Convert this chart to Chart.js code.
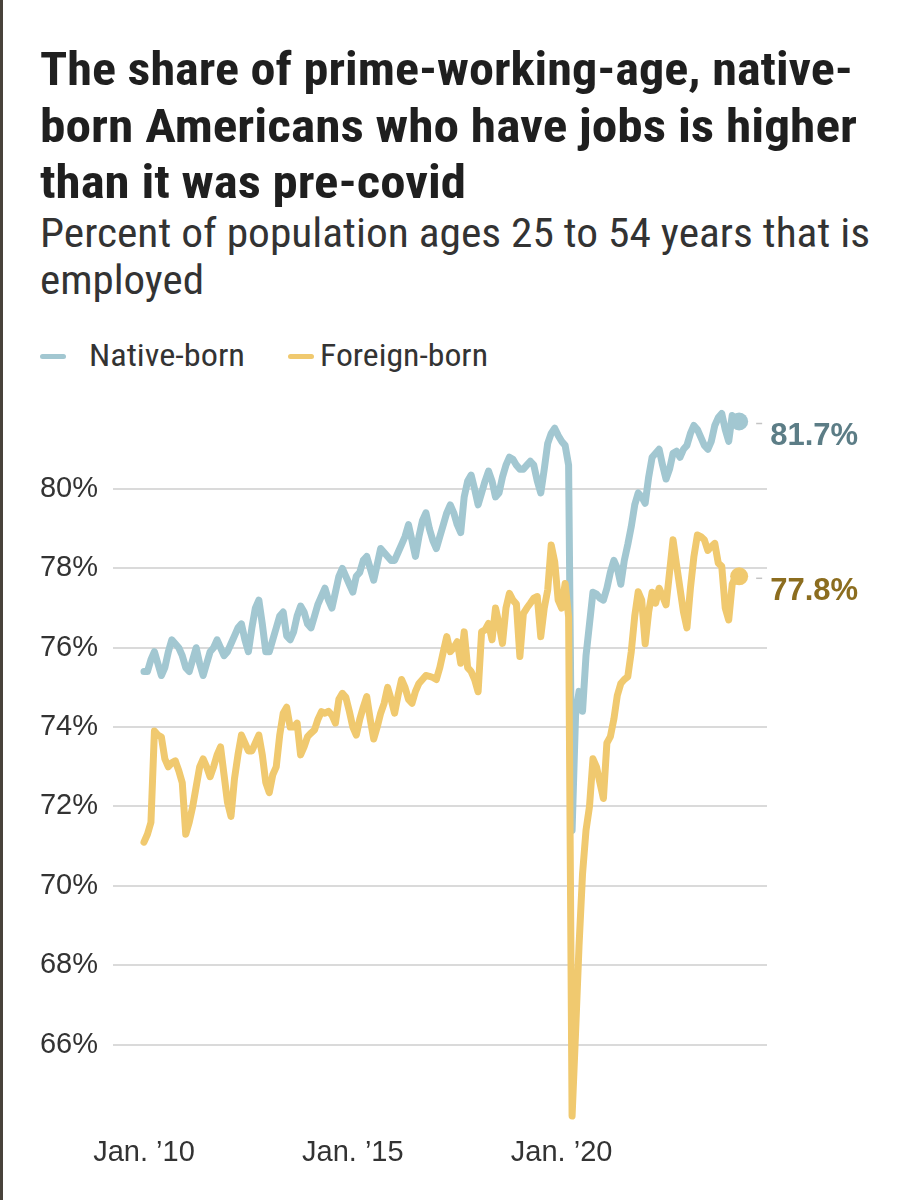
<!DOCTYPE html>
<html>
<head>
<meta charset="utf-8">
<script src="https://cdn.jsdelivr.net/npm/chart.js@4.4.1/dist/chart.umd.min.js"></script>
<style>
	html, body { margin: 0; padding: 0; background: #fff; }
	body { width: 910px; height: 1200px; position: relative; overflow: hidden; }
	#frame { position: absolute; left: 0; top: 0; width: 3px; height: 1200px; background: #48423b; }
	.txt { position: absolute; left: 40px; white-space: nowrap; line-height: 1; transform-origin: 0 50%;
		font-family: "Roboto Condensed", "Liberation Sans Narrow", "DejaVu Sans Condensed", Roboto, sans-serif; font-stretch: condensed; }
	.title { font-weight: 700; font-size: 46px; color: #1f1f1f; }
	.sub { font-weight: 400; font-size: 40px; color: #333; }
	.leg { font-weight: 400; font-size: 31px; color: #333; }
	.swatch { position: absolute; height: 5px; border-radius: 3px; }
	#chart { position: absolute; left: 0; top: 0; }
</style>
</head>
<body>
<div id="frame"></div>

<div class="txt title" style="top:46px" data-w="813">The share of prime-working-age, native-</div>
<div class="txt title" style="top:103px" data-w="817">born Americans who have jobs is higher</div>
<div class="txt title" style="top:159px" data-w="426">than it was pre-covid</div>

<div class="txt sub" style="top:214px" data-w="830">Percent of population ages 25 to 54 years that is</div>
<div class="txt sub" style="top:261px" data-w="164">employed</div>

<div class="swatch" style="left:40px;top:354px;width:26px;background:#a2c7d1"></div>
<div class="txt leg" style="left:89px;top:340px" data-w="156">Native-born</div>
<div class="swatch" style="left:288px;top:354px;width:26px;background:#f0c96f"></div>
<div class="txt leg" style="left:320px;top:340px" data-w="168">Foreign-born</div>

<canvas id="chart" width="910" height="1200"></canvas>

<script>
// Monthly values, Jan 2010 .. Apr 2024 (percent employed, ages 25-54)
const NATIVE = [
	75.4, 75.4, 75.7, 75.9, 75.6, 75.3, 75.5, 75.9, 76.2, 76.1, 76.0, 75.8,
	75.5, 75.4, 75.7, 76.0, 75.6, 75.3, 75.6, 75.9, 76.0, 76.2, 76.0, 75.8,
	75.9, 76.1, 76.3, 76.5, 76.6, 76.2, 75.9, 76.5, 77.0, 77.2, 76.6, 75.9,
	75.9, 76.2, 76.5, 76.8, 76.9, 76.3, 76.2, 76.4, 76.8, 77.05, 76.9, 76.6,
	76.5, 76.8, 77.1, 77.3, 77.5, 77.2, 77.0, 77.4, 77.8, 78.0, 77.8, 77.6,
	77.4, 77.8, 77.9, 78.2, 78.3, 78.0, 77.7, 78.1, 78.5, 78.4, 78.3, 78.2,
	78.2, 78.4, 78.6, 78.8, 79.1, 78.7, 78.3, 78.8, 79.2, 79.4, 79.0, 78.7,
	78.5, 78.8, 79.1, 79.4, 79.6, 79.4, 79.1, 78.9, 79.8, 80.2, 80.35, 80.0,
	79.6, 79.9, 80.2, 80.45, 80.2, 79.8, 79.9, 80.3, 80.6, 80.8, 80.75, 80.6,
	80.5, 80.5, 80.6, 80.7, 80.6, 80.2, 79.9, 80.5, 81.15, 81.4, 81.53, 81.35,
	81.2, 81.1, 80.6, 71.4, 74.3, 74.9, 74.4, 75.8, 76.6, 77.4, 77.35, 77.25,
	77.2, 77.5, 77.9, 78.2, 78.0, 77.6, 78.2, 78.6, 79.05, 79.6, 79.9, 79.8,
	79.64, 80.3, 80.8, 80.9, 81.0, 80.6, 80.25, 80.5, 80.9, 80.95, 80.8, 81.0,
	81.1, 81.4, 81.6, 81.5, 81.3, 81.1, 81.0, 81.2, 81.6, 81.8, 81.9, 81.5,
	81.2, 81.85, 81.75, 81.7
];
const FOREIGN = [
	71.1, 71.3, 71.6, 73.9, 73.8, 73.75, 73.2, 73.0, 73.1, 73.15, 72.9, 72.6,
	71.3, 71.6, 72.0, 72.5, 73.0, 73.2, 73.0, 72.75, 73.0, 73.3, 73.5, 72.8,
	72.1, 71.75, 72.7, 73.3, 73.8, 73.6, 73.4, 73.4, 73.6, 73.8, 73.3, 72.6,
	72.35, 72.8, 73.0, 73.8, 74.35, 74.5, 74.0, 74.0, 74.1, 73.3, 73.5, 73.76,
	73.85, 73.93, 74.2, 74.39, 74.35, 74.4, 74.3, 74.1, 74.7, 74.85, 74.75, 74.4,
	74.0, 73.8, 74.2, 74.5, 74.77, 74.2, 73.7, 74.0, 74.35, 74.6, 75.0, 74.7,
	74.35, 74.8, 75.2, 75.0, 74.7, 74.6, 74.9, 75.1, 75.2, 75.3, 75.28, 75.25,
	75.2, 75.5, 75.9, 76.28, 75.9, 76.0, 76.15, 75.61, 76.4, 75.5, 75.4, 75.2,
	74.89, 76.4, 76.45, 76.61, 76.2, 77.0, 76.6, 76.11, 77.0, 77.37, 77.2, 77.1,
	75.78, 76.86, 77.0, 77.12, 77.25, 77.29, 76.28, 77.0, 77.46, 78.59, 78.17, 77.2,
	77.0, 77.62, 76.78, 64.2, 66.3, 68.5, 70.3, 71.4, 72.0, 73.2, 73.0, 72.6,
	72.2, 73.6, 73.76, 74.2, 74.8, 75.1, 75.2, 75.27, 75.9, 76.8, 77.41, 77.2,
	76.1, 76.9, 77.4, 77.12, 77.5, 77.3, 77.08, 77.9, 78.72, 78.1, 77.5, 76.9,
	76.5, 77.5, 78.3, 78.84, 78.8, 78.72, 78.45, 78.55, 78.63, 78.13, 78.05, 77.0,
	76.7, 77.6, 77.8, 77.8
];

// Axis ticks: months since Jan 2010
const TICK_MONTHS = [0, 60, 120];
const TICK_LABELS = ["Jan. \u201910", "Jan. \u201915", "Jan. \u201920"];
const Y_TICKS = [66, 68, 70, 72, 74, 76, 78, 80];

const COLOR_NATIVE = "#a2c7d1";
const COLOR_FOREIGN = "#f0c96f";
const TICK_FONT = "'Liberation Sans', Arial, sans-serif";

const toPoints = (arr) => arr.map((v, i) => ({ x: i, y: v }));
const endDot = (arr) => (c) => (c.dataIndex === arr.length - 1 ? 9 : 0);

// End-of-line value labels
const endLabels = {
	id: "endLabels",
	afterDatasetsDraw(chart) {
		const { ctx } = chart;
		chart.data.datasets.forEach((ds, i) => {
			const meta = chart.getDatasetMeta(i);
			const pt = meta.data[meta.data.length - 1];
			const last = ds.data[ds.data.length - 1].y;
			ctx.save();
			ctx.strokeStyle = "#c4c4c4";
			ctx.lineWidth = 1.5;
			ctx.beginPath();
			ctx.moveTo(pt.x + 17, pt.y + 2);
			ctx.lineTo(pt.x + 23, pt.y + 2);
			ctx.stroke();
			ctx.font = "bold 31px " + TICK_FONT;
			ctx.fillStyle = ds.labelColor;
			ctx.textBaseline = "middle";
			ctx.fillText(last.toFixed(1) + "%", pt.x + 31, pt.y + 15);
			ctx.restore();
		});
	},
};

new Chart(document.getElementById("chart"), {
	type: "line",
	data: {
		datasets: [
			{
				label: "Native-born",
				data: toPoints(NATIVE),
				borderColor: COLOR_NATIVE,
				backgroundColor: COLOR_NATIVE,
				labelColor: "#5c7d86",
				borderWidth: 7,
				pointRadius: endDot(NATIVE),
				pointHoverRadius: endDot(NATIVE),
				pointBorderWidth: 0,
				borderJoinStyle: "round",
				borderCapStyle: "round",
				tension: 0,
				order: 1,
			},
			{
				label: "Foreign-born",
				data: toPoints(FOREIGN),
				borderColor: COLOR_FOREIGN,
				backgroundColor: COLOR_FOREIGN,
				labelColor: "#8c6d1f",
				borderWidth: 7,
				pointRadius: endDot(FOREIGN),
				pointHoverRadius: endDot(FOREIGN),
				pointBorderWidth: 0,
				borderJoinStyle: "round",
				borderCapStyle: "round",
				tension: 0,
				order: 0,
			},
		],
	},
	options: {
		responsive: false,
		animation: false,
		devicePixelRatio: 1,
		layout: { padding: { top: 409.6, right: 143, bottom: 0, left: 0 } },
		plugins: {
			legend: { display: false },
			tooltip: { enabled: false },
		},
		scales: {
			x: {
				type: "linear",
				min: -8.9,
				max: 179,
				grid: { display: false, drawTicks: false },
				border: { display: false },
				afterBuildTicks: (s) => {
					s.ticks = TICK_MONTHS.map((v) => ({ value: v }));
				},
				afterFit: (s) => {
					s.height = 76;
				},
				ticks: {
					autoSkip: false,
					maxRotation: 0,
					padding: 12,
					color: "#333",
					font: { family: TICK_FONT, size: 29 },
					callback: (v) => TICK_LABELS[TICK_MONTHS.indexOf(v)],
				},
			},
			y: {
				min: 64,
				max: 82,
				grid: { color: "#dadada", lineWidth: 2, drawTicks: false },
				border: { display: false },
				afterBuildTicks: (s) => {
					s.ticks = Y_TICKS.map((v) => ({ value: v }));
				},
				afterFit: (s) => {
					s.width = 113;
				},
				ticks: {
					padding: 15,
					color: "#333",
					font: { family: TICK_FONT, size: 29 },
					callback: (v) => v + "%",
				},
			},
		},
	},
	plugins: [endLabels],
});

// Squeeze the header texts to the widths of the condensed face in the original
const fitText = () => {
	document.querySelectorAll("[data-w]").forEach((el) => {
		el.style.transform = "none";
		const w = el.getBoundingClientRect().width;
		el.style.transform = "scaleX(" + el.dataset.w / w + ")";
	});
};
fitText();
document.fonts.ready.then(fitText);
</script>
</body>
</html>
